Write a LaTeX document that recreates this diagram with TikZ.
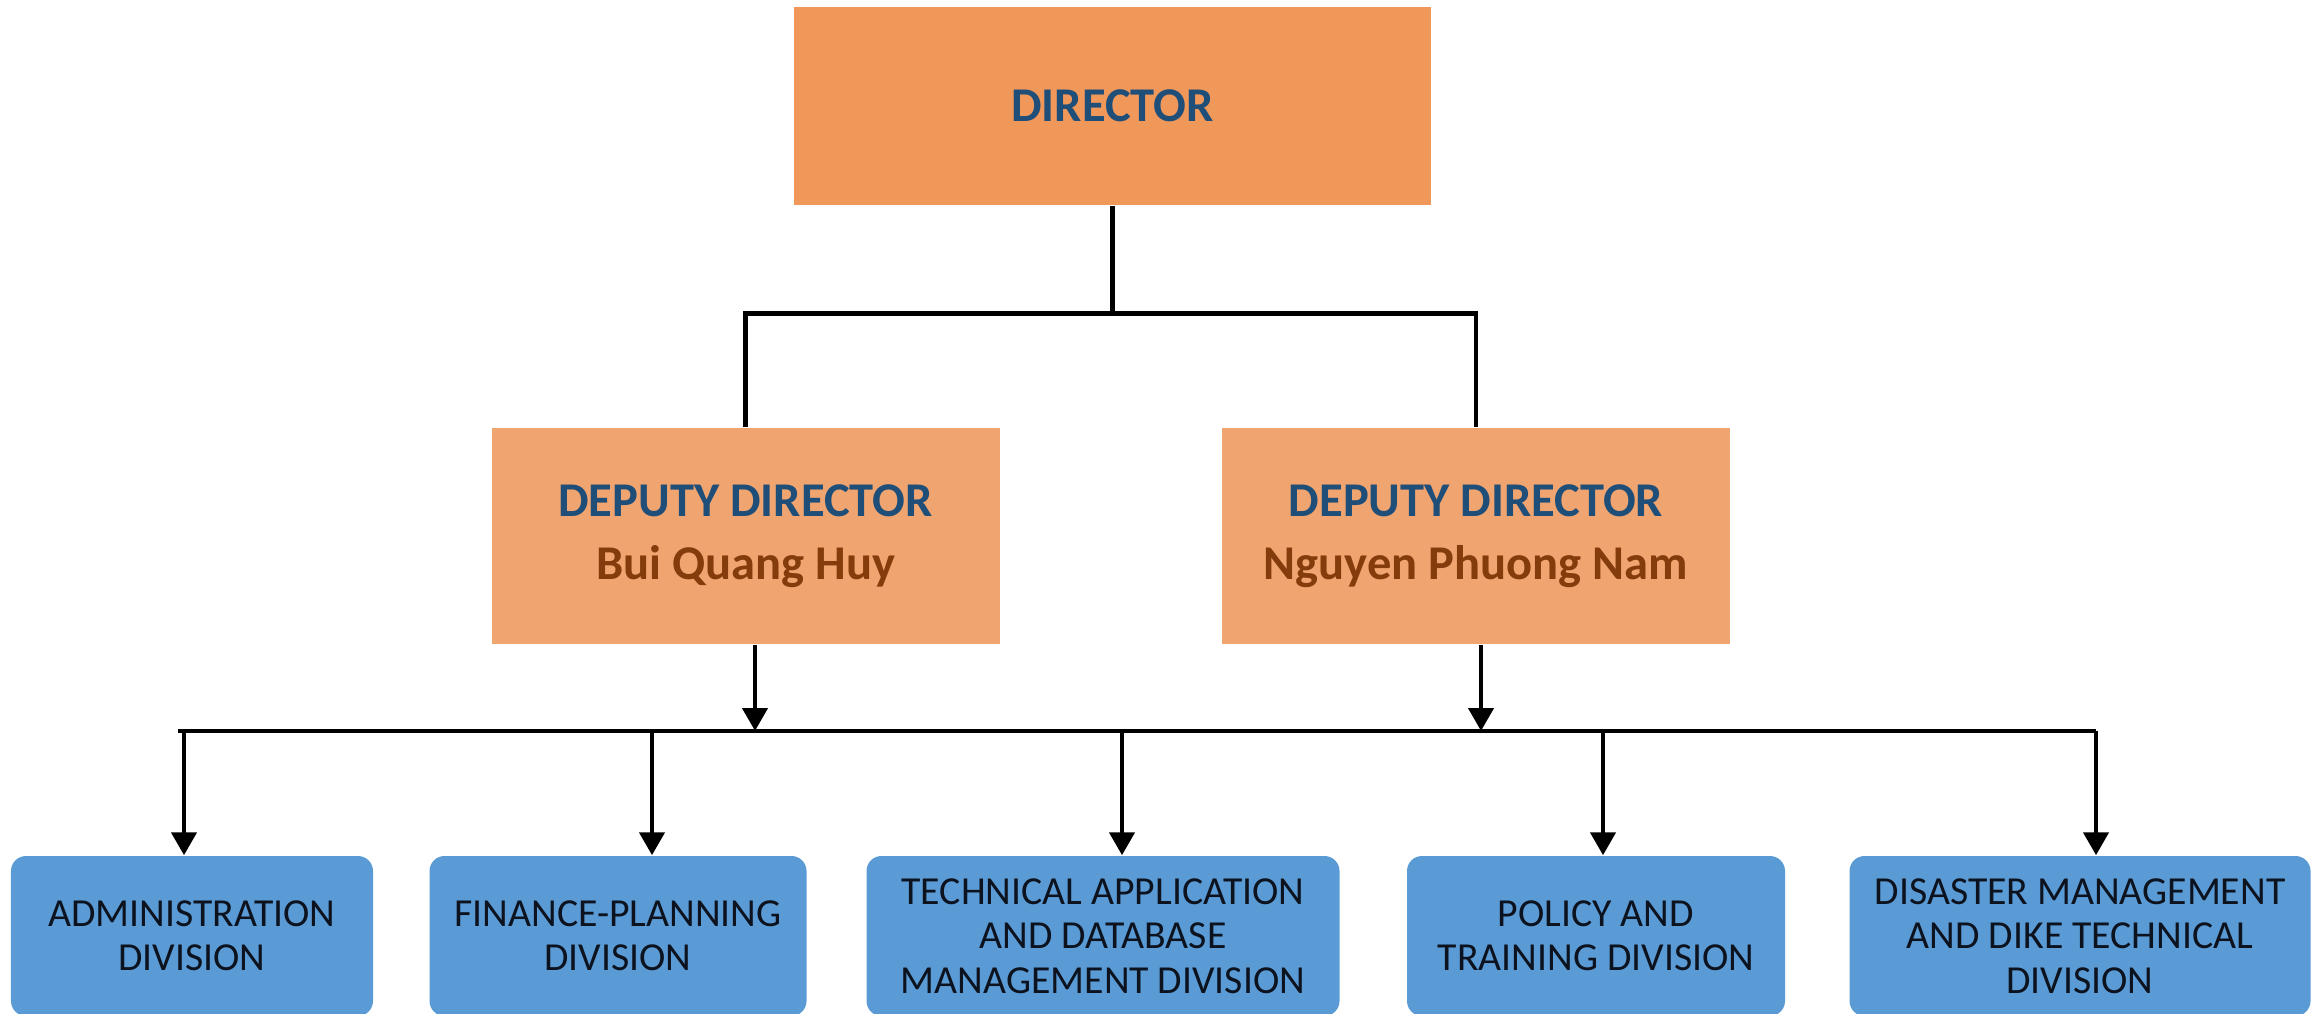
\documentclass[tikz,border=0pt]{standalone}
\usepackage{fontspec}
\setmainfont{Carlito}
\usetikzlibrary{positioning, arrows.meta}

\definecolor{headorange}{RGB}{240,151,90}
\definecolor{deputyorange}{RGB}{240,164,111}
\definecolor{divblue}{RGB}{91,155,213}
\definecolor{titleblue}{RGB}{31,78,121}
\definecolor{namebrown}{RGB}{132,60,12}
\definecolor{divtext}{RGB}{12,18,30}

\tikzset{
    chief/.style = {fill=headorange, minimum width=6.37cm, minimum height=1.98cm,
        text=titleblue, font=\fontsize{13.8}{18}\selectfont\bfseries},
    deputy/.style = {fill=deputyorange, minimum width=5.08cm, minimum height=2.16cm,
        align=center, text=titleblue, font=\fontsize{13.8}{18}\selectfont\bfseries},
    division/.style = {fill=divblue, rounded corners=0.15cm, minimum height=1.6cm,
        align=center, text=divtext, font=\fontsize{11.3}{12.6}\selectfont},
    link/.style = {line width=1.4pt},
    arr/.style = {link, -{Triangle[width=7pt, length=6.5pt]}}
}

\begin{document}
\begin{tikzpicture} [node distance = 2cm,
            on grid]
        \useasboundingbox (0,0) rectangle (23.18,-10.14);
        \clip (0,0) rectangle (23.18,-10.14);

        % Director
        \node (director) [chief] at (11.125,-1.06) {DIRECTOR};

        % Deputy directors
        \node (dep1) [deputy,
            below left = 4.3cm and 3.67cm of director]
            {DEPUTY DIRECTOR\\ \textcolor{namebrown}{Bui Quang Huy}};
        \node (dep2) [deputy,
            right = 7.305cm of dep1]
            {DEPUTY DIRECTOR\\ \textcolor{namebrown}{Nguyen Phuong Nam}};

        % Divisions
        \node (adm) [division, minimum width=3.62cm,
            below left = 4cm and 5.535cm of dep1]
            {ADMINISTRATION\\ DIVISION};
        \node (fin) [division, minimum width=3.77cm,
            right = 4.26cm of adm]
            {FINANCE-PLANNING\\ DIVISION};
        \node (tech) [division, minimum width=4.73cm,
            right = 4.85cm of fin]
            {TECHNICAL APPLICATION\\ AND DATABASE\\ MANAGEMENT DIVISION};
        \node (pol) [division, minimum width=3.78cm,
            right = 4.93cm of tech]
            {POLICY AND\\ TRAINING DIVISION};
        \node (dis) [division, minimum width=4.61cm,
            right = 4.84cm of pol]
            {DISASTER MANAGEMENT\\ AND DIKE TECHNICAL\\ DIVISION};

        % Director to deputies
        \coordinate (fork) at ([yshift=-1.08cm]director.south);
        \draw [link] (director.south) -- (fork);
        \draw [link] (dep1.north) |- (fork) -| (dep2.north);

        % Bus line
        \coordinate (busL) at (1.78,-7.31);
        \coordinate (busR) at (20.96,-7.31);
        \coordinate (j1) at (7.55,-7.31);
        \coordinate (j2) at (14.81,-7.31);
        \draw [link] (busL) -- (busR);

        % Deputies to bus
        \draw [arr] (dep1.south -| j1) -- (j1);
        \draw [arr] (dep2.south -| j2) -- (j2);

        % Bus to divisions
        \foreach \x/\n in {1.84/adm, 6.52/fin, 11.22/tech, 16.03/pol, 20.96/dis}
            \coordinate (top-\n) at (\x,-7.31);
        \foreach \n in {adm, fin, tech, pol, dis}
            \draw [arr] (top-\n) -- (top-\n |- \n.north);
\end{tikzpicture}
\end{document}
